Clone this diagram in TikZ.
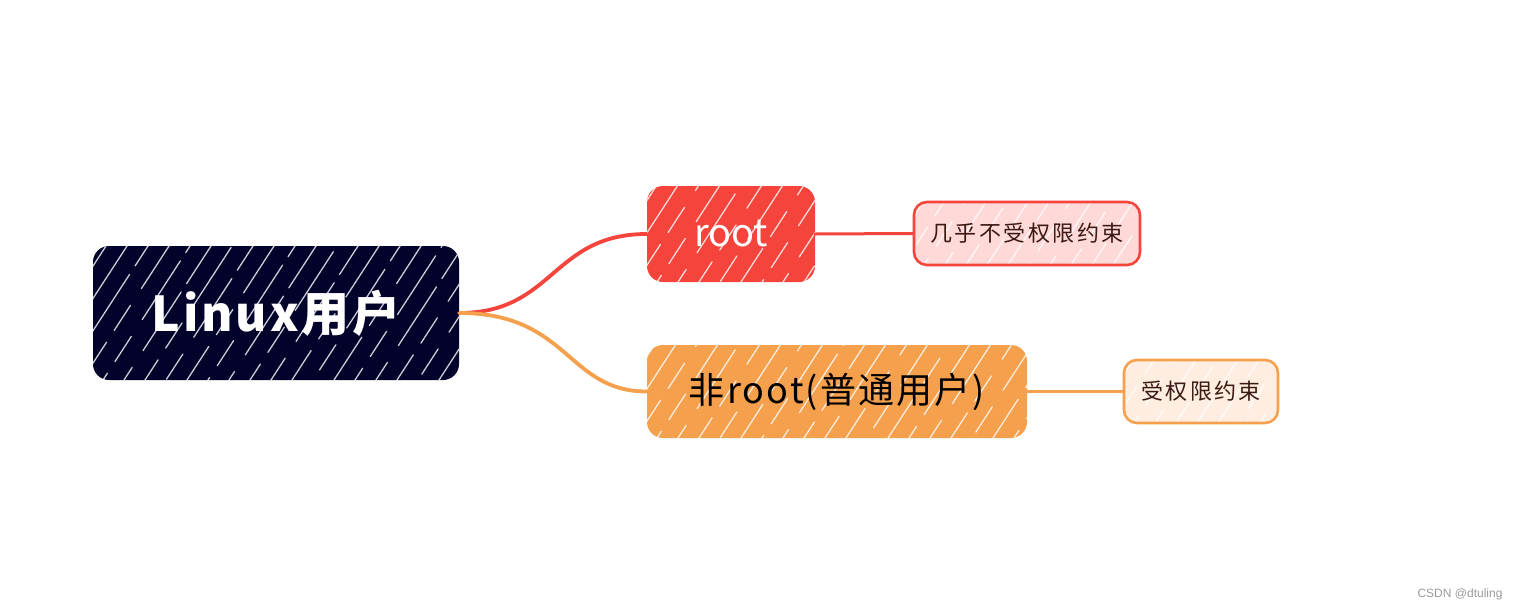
\documentclass[tikz,border=0pt]{standalone}
\usepackage{fontspec}
\setmainfont{Noto Sans CJK SC}
\newfontfamily\wmfont{Liberation Sans}
\definecolor{navy}{HTML}{02022A}
\definecolor{rootred}{HTML}{F5443B}
\definecolor{orng}{HTML}{F5A04C}
\definecolor{pinkfill}{HTML}{FFD9D8}
\definecolor{peachfill}{HTML}{FEEDE0}
\definecolor{leaftext}{HTML}{3A1A12}
\definecolor{wmgray}{HTML}{9A9A9A}
\tikzset{
  hatch/.style={path picture={
    \foreach \k [count=\c] in {0,21,...,700} {
      \pgfmathsetmacro{\ph}{mod(\c*37,90)}
      \draw[white,opacity=0.8,line width=1.3pt,line cap=round,
            dash pattern=on 55pt off 14pt on 30pt off 20pt on 70pt off 10pt, dash phase=\ph pt]
        ([xshift=\k pt-200pt]path picture bounding box.south west) -- ++(57:420pt);
    }}},
  bigbox/.style={rectangle, rounded corners=16pt, inner sep=0pt, align=center, hatch},
  leafbox/.style={rectangle, rounded corners=13pt, inner sep=0pt, line width=2.6pt,
    text=leaftext, font=\fontsize{22}{26}\selectfont\addfontfeatures{LetterSpace=11}, hatch},
  branch/.style={line width=3.8pt, line cap=round},
  twig/.style={line width=3pt, line cap=round},
}
\begin{document}
\begin{tikzpicture}[x=1pt,y=-1pt]
\useasboundingbox (0,0) rectangle (1518,610);
\fill[white] (0,0) rectangle (1518,610);

\node[bigbox, fill=navy, text=white, minimum width=366pt, minimum height=134pt,
  font=\fontsize{48}{56}\selectfont\bfseries\addfontfeatures{LetterSpace=6}] (linux) at (276,313) {Linux用户};
\node[bigbox, fill=rootred, text=white, minimum width=168pt, minimum height=96pt,
  font=\fontsize{38}{44}\selectfont] (root) at (731,234) {root};
\node[bigbox, fill=orng, text=black, minimum width=380pt, minimum height=93pt,
  font=\fontsize{36}{42}\selectfont\addfontfeatures{LetterSpace=6}] (nonroot) at (837,391.5) {非root(普通用户)};
\node[leafbox, draw=rootred, fill=pinkfill, minimum width=226pt, minimum height=63pt]
  (leaf1) at (1027,233.5) {几乎不受权限约束};
\node[leafbox, draw=orng, fill=peachfill, minimum width=154pt, minimum height=63pt]
  (leaf2) at (1201,391.5) {受权限约束};

\draw[branch, rootred] (linux.east) .. controls +(95,0) and +(-95,0) .. (root.west);
\draw[branch, orng] (linux.east) .. controls +(110,0) and +(-80,0) .. (nonroot.west);
\draw[twig, rootred] (root.east) -- (leaf1.west);
\draw[twig, orng] (nonroot.east) -- (leaf2.west);

\node[text=wmgray, font=\wmfont\fontsize{12}{14}\selectfont] (wm) at (1460,594) {CSDN @dtuling};
\end{tikzpicture}
\end{document}
